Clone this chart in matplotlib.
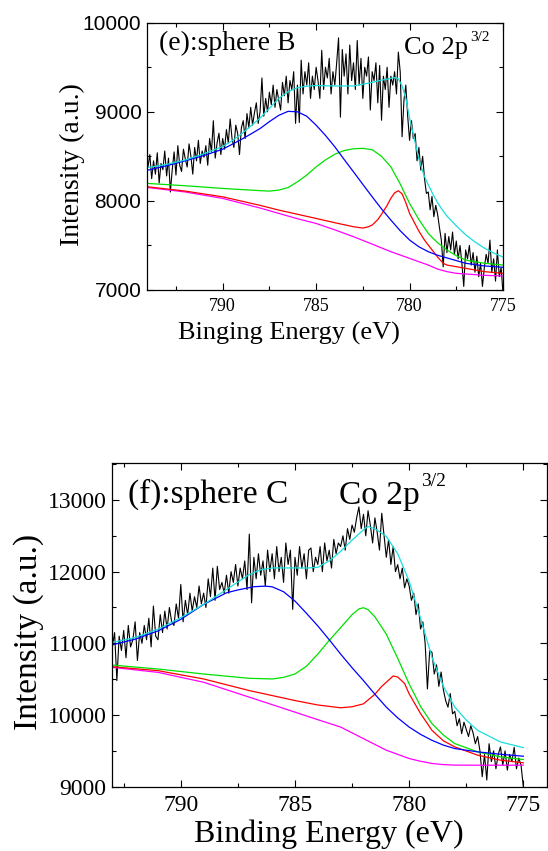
import numpy as np
import matplotlib
matplotlib.use("Agg")
import matplotlib.pyplot as plt
from matplotlib.ticker import MultipleLocator

SERIF = ["Liberation Serif", "DejaVu Serif"]
SANS = ["Liberation Sans", "DejaVu Sans"]

# ---------------- panel (e): sphere B ----------------
e_raw_x = np.round(np.arange(794.0, 774.95, -0.1), 2)
e_raw_y = [
    8380, 8520, 8250, 8450, 8300, 8540, 8200, 8420, 8350, 8560, 8280,
    8480, 8100, 8350, 8550, 8290, 8620, 8400, 8330, 8580, 8470,
    8380, 8640, 8500, 8300, 8600, 8450, 8680, 8420, 8560, 8490,
    8620, 8400, 8700, 8550, 8900, 8480, 8650, 8760, 8520, 8700,
    8580, 8800, 8650, 8920, 8700, 8600, 8850, 8760, 8520, 8820,
    8900, 8700, 8980, 8820, 9050, 8850, 8990, 9100, 8870, 9000,
    9380, 8950, 9150, 9000, 9220, 9080, 9300, 9050, 9250, 9130,
    9020, 9330, 9180, 9400, 9100, 9350, 9250, 9450, 8870, 9300,
    8880, 9580, 9200, 9450, 9300, 9550, 9150, 9400, 9250, 9500,
    9350, 9150, 9690, 9250, 9500, 9380, 9600, 9200, 9450, 9300,
    9550, 9830, 8940, 9700, 9400, 9650, 9200, 9750, 9350, 9550,
    9250, 9800, 9300, 9600, 9150, 9500, 9400, 9615, 9020, 9450,
    9350, 9550, 9100, 9520, 8905, 9400, 9250, 9500, 9050, 9400,
    9300, 9450, 9200, 9670, 9447, 8720, 9130, 9300, 8950, 8680,
    8900, 8700, 8756, 8450, 8600, 8345, 8500, 8250, 8084, 8100,
    7900, 8050, 7822, 7950, 7850, 7700, 7560, 7260, 7635, 7420,
    7600, 7450, 7650, 7400, 7550, 7350, 7500, 7300, 7040, 7450,
    7350, 7500, 7280, 7420, 7200, 7380, 7150, 7300, 7040, 7250,
    7400, 7300, 7560, 7200, 7350, 7100, 7450, 7150, 7250, 6960,
]

e_fit_x = [794, 793, 792, 791, 790, 789.5, 789, 788.5, 788, 787.5, 787,
           786.5, 786, 785.5, 785, 784, 783, 782, 781.5, 781, 780.8, 780.6,
           780.4, 780.2, 780, 779.75, 779.5, 779.25, 779, 778.75, 778.5,
           778.25, 778, 777.5, 777, 776.5, 776, 775.5, 775]
e_fit_y = [8375, 8410, 8460, 8530, 8610, 8675, 8750, 8840, 8930, 9040, 9150,
           9225, 9270, 9288, 9295, 9290, 9290, 9330, 9355, 9375, 9385, 9370,
           9290, 9150, 8930, 8700, 8470, 8300, 8180, 8075, 7980, 7900, 7830,
           7720, 7620, 7540, 7470, 7415, 7370]

e_blue_x = [794, 793, 792, 791, 790, 789, 788.5, 788, 787.5, 787, 786.5, 786,
            785.5, 785, 784.5, 784, 783.5, 783, 782.5, 782, 781.5, 781, 780.5,
            780, 779.5, 779, 778.5, 778, 777, 776, 775]
e_blue_y = [8345, 8395, 8450, 8510, 8580, 8690, 8750, 8812, 8890, 8960, 9005,
            9000, 8950, 8850, 8735, 8607, 8465, 8326, 8185, 8046, 7910, 7785,
            7665, 7561, 7485, 7430, 7390, 7360, 7300, 7270, 7255]

e_green_x = [794, 792, 790, 788, 787.5, 787, 786.5, 786, 785.5, 785, 784.5,
             784, 783.5, 783, 782.5, 782, 781.5, 781, 780.5, 780, 779.5, 779,
             778.5, 778, 777.5, 777, 776, 775]
e_green_y = [8196, 8170, 8140, 8115, 8110, 8121, 8150, 8214, 8290, 8382, 8460,
             8524, 8565, 8585, 8590, 8575, 8500, 8382, 8190, 7972, 7790, 7635,
             7530, 7449, 7385, 7336, 7300, 7280]

e_red_x = [794, 792, 790, 788, 787, 786, 785, 784, 783, 782.5, 782.2, 782,
           781.7, 781.5, 781.2, 781, 780.8, 780.6, 780.4, 780.2, 780, 779.7,
           779.5, 779.2, 779, 778.5, 778.2, 778, 777, 776, 775]
e_red_y = [8158, 8110, 8046, 7950, 7897, 7850, 7803, 7755, 7710, 7695, 7710,
           7729, 7790, 7850, 7950, 8030, 8090, 8114, 8080, 7980, 7860, 7740,
           7660, 7560, 7505, 7370, 7300, 7280, 7243, 7206, 7187]

e_mag_x = [794, 792, 790, 788, 787, 786, 785, 784, 783, 782, 781, 780, 779,
           778.5, 778, 777.5, 777, 776, 775]
e_mag_y = [8150, 8100, 8028, 7920, 7860, 7800, 7747, 7675, 7598, 7515, 7430,
           7355, 7280, 7235, 7206, 7187, 7180, 7165, 7157]

# ---------------- panel (f): sphere C ----------------
f_raw_x = np.round(np.arange(793.0, 774.95, -0.1), 2)
f_raw_y = [
    10950, 11150, 10480, 11100, 10900, 11180, 10800, 11250, 10950, 11050,
    11300, 10760, 11150, 11000, 11250, 11050, 11350, 10950, 11520, 11100,
    11050, 11400, 11150, 11450, 11200, 11500, 11300, 11250, 11550, 11350,
    11821, 11300, 11600, 11400, 11700, 11450, 11650, 11500, 11800, 11550,
    11700, 11500, 11900, 11650, 12050, 11600, 12075, 11750, 11850, 11700,
    11950, 11700, 12000, 11850, 12100, 11800, 12050, 11900, 12150, 11750,
    12524, 11566, 12200, 11900, 12250, 11950, 12150, 11800, 12300, 12000,
    12250, 11900, 12350, 12000, 12200, 11850, 12400, 12100, 12300, 11474,
    12200, 11950, 12350, 12050, 12250, 11900, 12300, 12330, 12000, 12200,
    12100, 12350, 12000, 12400, 12150, 12300, 12050, 12450, 12250, 12400,
    12350, 12500, 12300, 12600, 12450, 12650, 12550, 12750, 12903, 12600,
    12800, 12500, 12850, 12650, 12400, 12750, 12550, 12300, 12815, 12500,
    12200, 12450, 12100, 12350, 12000, 12098, 11900, 12050, 11775, 11900,
    11800, 11600, 11700, 11400, 11550, 11200, 11300, 11000, 10364, 10900,
    10873, 10572, 10700, 10400, 10600, 10350, 10200, 10110, 10300, 10017,
    10050, 9850, 9950, 9740, 9900, 9800, 9700, 9850, 9750, 9600,
    9700, 9500, 9139, 9450, 9093, 9600, 9350, 9500, 9250, 9450,
    9555, 9300, 9500, 9231, 9450, 9350, 9550, 9250, 9400, 9300,
    9000,
]

f_fit_x = [793, 792, 791, 790, 789, 788, 787, 786.5, 786, 785, 784.5, 784,
           783.5, 783, 782.5, 782, 781.8, 781.5, 781, 780.5, 780, 779.5, 779,
           778.5, 778, 777.5, 777, 776, 775]
f_fit_y = [11012, 11081, 11197, 11358, 11543, 11751, 11960, 12025, 12052,
           12052, 12050, 12061, 12150, 12283, 12440, 12584, 12630, 12600, 12491,
           12250, 11867, 11350, 10803, 10400, 10110, 9930, 9786, 9624, 9546]

f_blue_x = [793, 792, 791, 790, 789, 788, 787.5, 786.8, 786.3, 786, 785.5,
            785, 784.5, 784, 783.5, 783, 782.5, 782, 781.5, 781, 780.5, 780,
            779.5, 779, 778.5, 778, 777, 776, 775]
f_blue_y = [10979, 11058, 11173, 11335, 11543, 11705, 11745, 11790, 11798,
            11789, 11720, 11590, 11420, 11243, 11050, 10850, 10660, 10480,
            10290, 10110, 9960, 9832, 9730, 9647, 9580, 9532, 9486, 9453, 9425]

f_green_x = [793, 791, 789, 787, 786, 785.5, 785, 784.5, 784, 783.5, 783,
             782.5, 782.2, 782, 781.8, 781.5, 781, 780.5, 780, 779.5, 779,
             778.5, 778, 777, 776, 775]
f_green_y = [10697, 10642, 10572, 10512, 10503, 10525, 10572, 10680, 10850,
             11040, 11220, 11400, 11480, 11497, 11470, 11370, 11127, 10790,
             10434, 10120, 9879, 9720, 9601, 9486, 9416, 9379]

f_red_x = [793, 791, 789, 787, 785, 784, 783, 782.5, 782, 781.5, 781.2, 781,
           780.7, 780.5, 780.2, 780, 779.5, 779, 778.5, 778, 777, 776, 775]
f_red_y = [10674, 10619, 10503, 10341, 10202, 10140, 10101, 10115, 10156,
           10290, 10400, 10457, 10545, 10530, 10440, 10295, 10020, 9786, 9640,
           9555, 9440, 9370, 9333]

f_mag_x = [793, 791, 789, 787, 786, 785, 784, 783, 782, 781, 780, 779.5, 779,
           778.5, 778, 777, 776, 775]
f_mag_y = [10665, 10595, 10457, 10249, 10145, 10040, 9935, 9832, 9670, 9509,
           9393, 9355, 9324, 9308, 9301, 9300, 9300, 9301]

C_FIT = "#18dede"
C_BLUE = "#0000ff"
C_GREEN = "#00e000"
C_RED = "#ff0000"
C_MAG = "#ff00ff"

fig = plt.figure(figsize=(5.48, 8.51), dpi=100)

W, H = 548.0, 851.0


def axes_px(l, t, r, b):
    return fig.add_axes([l / W, 1 - b / H, (r - l) / W, (b - t) / H])


def style(ax, xfam, yfam, xsize, ysize):
    ax.tick_params(which="both", direction="in", top=True, right=True,
                   width=0.8)
    ax.tick_params(which="major", length=5)
    ax.tick_params(which="minor", length=3)
    ax.xaxis.set_major_locator(MultipleLocator(5))
    ax.xaxis.set_minor_locator(MultipleLocator(2.5))
    for lab in ax.get_xticklabels():
        lab.set_family(xfam)
        lab.set_fontsize(xsize)
    for lab in ax.get_yticklabels():
        lab.set_family(yfam)
        lab.set_fontsize(ysize)
    for s in ax.spines.values():
        s.set_linewidth(0.9)


def draw(ax, rx, ry, fits):
    ax.plot(rx, ry, color="black", lw=0.8)
    for (x, y, c) in fits:
        ax.plot(x, y, color=c, lw=0.9)


# ---- top panel
ax1 = axes_px(147, 22.7, 503, 290)
draw(ax1, e_raw_x, e_raw_y,
     [(e_mag_x, e_mag_y, C_MAG), (e_red_x, e_red_y, C_RED),
      (e_green_x, e_green_y, C_GREEN), (e_blue_x, e_blue_y, C_BLUE),
      (e_fit_x, e_fit_y, C_FIT)])
ax1.set_xlim(794.05, 775)
ax1.set_ylim(7000, 10000)
ax1.yaxis.set_major_locator(MultipleLocator(1000))
ax1.yaxis.set_minor_locator(MultipleLocator(500))
ax1.tick_params(axis="x", pad=6)
ax1.tick_params(axis="y", pad=4)
style(ax1, SERIF, SANS, 13, 15)
ax1.set_ylabel("Intensity (a.u.)", family=SERIF, fontsize=20)
ax1.yaxis.set_label_coords(-0.175, 0.47)
ax1.set_xlabel("Binging Energy (eV)", family=SERIF, fontsize=19)
ax1.xaxis.set_label_coords(0.40, -0.12)

fig.text(159 / W, 1 - 50 / H, "(e):sphere B", family=SERIF, fontsize=20,
         va="baseline", ha="left")
fig.text(404 / W, 1 - 54 / H, "Co 2p", family=SERIF, fontsize=19,
         va="baseline", ha="left")
fig.text(470 / W, 1 - 41 / H, "3/2", family=SERIF, fontsize=11,
         va="baseline", ha="left")

# ---- bottom panel
ax2 = axes_px(112.3, 462.7, 547.3, 786.7)
draw(ax2, f_raw_x, f_raw_y,
     [(f_mag_x, f_mag_y, C_MAG), (f_red_x, f_red_y, C_RED),
      (f_green_x, f_green_y, C_GREEN), (f_blue_x, f_blue_y, C_BLUE),
      (f_fit_x, f_fit_y, C_FIT)])
ax2.set_xlim(793.0, 773.95)
ax2.set_ylim(9000, 13520)
ax2.yaxis.set_major_locator(MultipleLocator(1000))
ax2.yaxis.set_minor_locator(MultipleLocator(500))
ax2.tick_params(axis="x", pad=6)
ax2.tick_params(axis="y", pad=4)
style(ax2, SERIF, SERIF, 17, 17)
ax2.set_ylabel("Intensity (a.u.)", family=SERIF, fontsize=24)
ax2.yaxis.set_label_coords(-0.157, 0.477)
ax2.set_xlabel("Binding Energy (eV)", family=SERIF, fontsize=23)
ax2.xaxis.set_label_coords(0.497, -0.1)

fig.text(128 / W, 1 - 503 / H, "(f):sphere C", family=SERIF, fontsize=24,
         va="baseline", ha="left")
fig.text(339 / W, 1 - 504 / H, "Co 2p", family=SERIF, fontsize=24,
         va="baseline", ha="left")
fig.text(421 / W, 1 - 486 / H, "3/2", family=SERIF, fontsize=14,
         va="baseline", ha="left")

fig.savefig("out.png", dpi=100)
